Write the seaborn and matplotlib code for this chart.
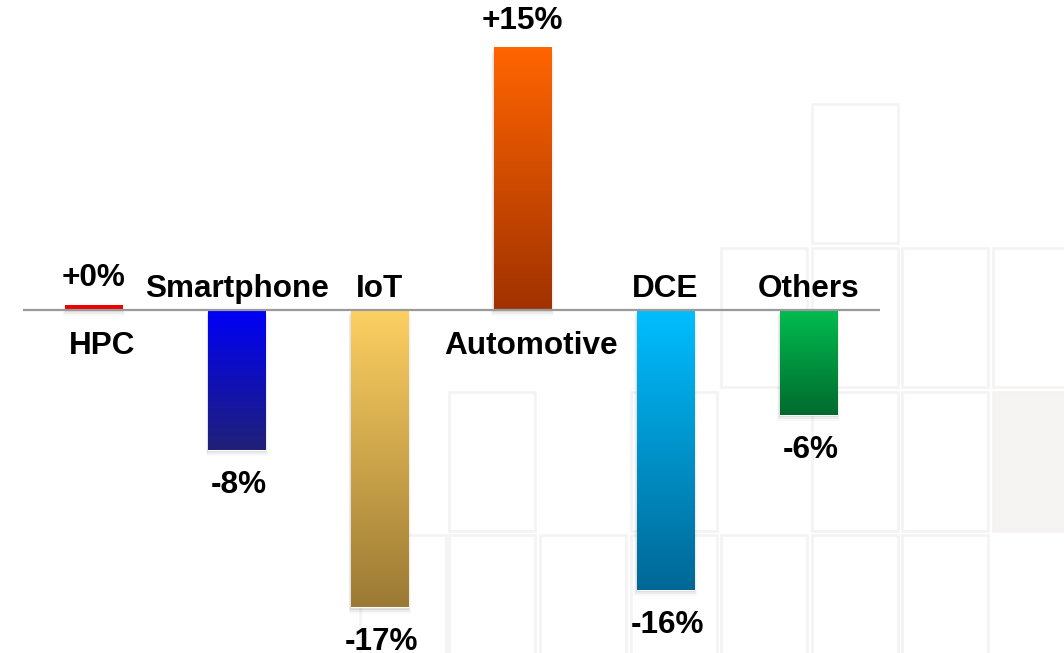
import matplotlib.pyplot as plt
import seaborn as sns
import numpy as np
import pandas as pd
from matplotlib.patches import Rectangle
from matplotlib.colors import to_rgb

sns.set_theme(style="white")
plt.rcParams['font.family'] = ['Liberation Sans', 'DejaVu Sans']

# Data
categories = ["HPC", "Smartphone", "IoT", "Automotive", "DCE", "Others"]
values = [0.3, -8, -17, 15, -16, -6]
value_labels = ["+0%", "-8%", "-17%", "+15%", "-16%", "-6%"]
top_colors = ["#ff0000", "#0000f8", "#fdd062", "#ff6500", "#00beff", "#00bd50"]
bottom_colors = ["#e00000", "#202078", "#9c7a34", "#a03200", "#006896", "#006a2e"]

df = pd.DataFrame({"category": categories, "value": values})

W, H = 1064, 653
fig = plt.figure(figsize=(W / 100, H / 100), dpi=100)
fig.patch.set_facecolor("white")
ax = fig.add_axes([0, 0, 1, 1])
ax.patch.set_visible(False)


# faint decorative tiles in the background (pixel coords, y from top)
def tile(x, y, w=86, h=139, fill="white"):
    r = Rectangle((x / W, 1 - (y + h) / H), w / W, h / H, transform=fig.transFigure,
                  facecolor=fill, edgecolor="#f4f2f2", linewidth=1.8, zorder=-1)
    fig.add_artist(r)


tile_rows = {
    104: [812],
    248: [721, 812, 902, 993],
    392: [449, 631, 812, 902],
    535: [360, 449, 540, 631, 721, 812, 902],
}
for ty, xs in tile_rows.items():
    for tx in xs:
        tile(tx, ty)
tile(993, 392, fill="#f5f4f3")

# bars
sns.barplot(data=df, x="category", y="value", hue="category", palette=top_colors,
            width=0.4, legend=False, ax=ax, saturation=1, zorder=3)

ax.set_xlim(-0.658, 6.79)
ax.set_ylim(-19.6, 17.714)

patches = sorted(ax.patches, key=lambda p: p.get_x())
for p, c_top, c_bot in zip(patches, top_colors, bottom_colors):
    x0, y0 = p.get_x(), p.get_y()
    w, h = p.get_width(), p.get_height()
    ylo, yhi = min(y0, y0 + h), max(y0, y0 + h)
    # soft shadow
    for k, a in enumerate([0.08, 0.05, 0.025]):
        dx = 0.012 * (k + 1)
        ax.add_patch(Rectangle((x0 - dx / 2, ylo - 0.12 * (k + 1)), w + dx, yhi - ylo,
                               facecolor="#000000", edgecolor="none", alpha=a, zorder=2))
    t = np.linspace(0, 1, 128)[:, None, None]
    grad = (1 - t) * np.array(to_rgb(c_top)) + t * np.array(to_rgb(c_bot))
    im = ax.imshow(grad, extent=(x0, x0 + w, ylo, yhi), origin="upper",
                   aspect="auto", zorder=4, interpolation="bilinear")
    im.set_clip_path(p)

ax.set_xlim(-0.658, 6.79)
ax.set_ylim(-19.6, 17.714)

# zero line
ax.hlines(0, -0.5, len(categories) - 0.5, color="#9a9a9a", linewidth=1.6, zorder=5)

# labels
fs = 22.7
for i, (cat, v, lab) in enumerate(zip(categories, values, value_labels)):
    if v >= 0:
        ax.annotate(lab, (i, v), xytext=(0, 18.5), textcoords="offset pixels",
                    ha="center", va="baseline", fontsize=fs, fontweight="bold", color="black")
        ax.annotate(cat, (i, 0), xytext=(8, -44), textcoords="offset pixels",
                    ha="center", va="baseline", fontsize=fs, fontweight="bold", color="black")
    else:
        ax.annotate(cat, (i, 0), xytext=(0, 13), textcoords="offset pixels",
                    ha="center", va="baseline", fontsize=fs, fontweight="bold", color="black")
        ax.annotate(lab, (i, v), xytext=(2, -43), textcoords="offset pixels",
                    ha="center", va="baseline", fontsize=fs, fontweight="bold", color="black")

ax.set_axis_off()
fig.savefig("out.png", dpi=100, facecolor="white")
